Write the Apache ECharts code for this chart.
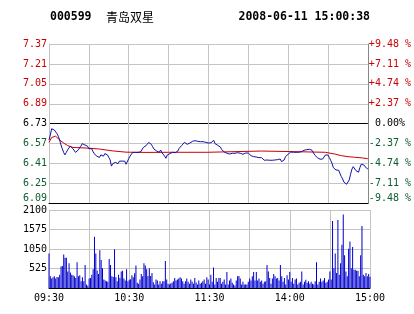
<!DOCTYPE html>
<html>
<head>
<meta charset="utf-8">
<script src="https://cdn.jsdelivr.net/npm/echarts@6/dist/echarts.min.js"></script>
<style>
html,body{margin:0;padding:0;background:#fff;}
#c{width:414px;height:314px;}
</style>
</head>
<body>
<div id="c"></div>
<script>
// ---- data ----
var stockCode = '000599';
var stockName = '青岛双星';
var stamp = '2008-06-11 15:00:38';
var prevClose = 6.73;

var priceTicks = ['6.09','6.25','6.41','6.57','6.73','6.89','7.05','7.21','7.37'];
var pctTicks = ['-9.48 %','-7.11 %','-4.74 %','-2.37 %',' 0.00%','+2.37 %','+4.74 %','+7.11 %','+9.48 %'];
var volTicks = ['0','525','1050','1575','2100'];
var timeMinutes = [0, 60, 120, 180, 240];
var timeLabels = ['09:30', '10:30', '11:30', '14:00', '15:00'];

// minute-by-minute price (241 minutes)
var prices = [
6.60,6.64,6.69,6.70,6.68,6.68,6.65,6.63,6.60,6.56,
6.53,6.50,6.48,6.50,6.52,6.53,6.55,6.54,6.53,6.52,
6.50,6.49,6.52,6.53,6.55,6.57,6.58,6.56,6.565,6.55,
6.53,6.52,6.53,6.51,6.49,6.48,6.47,6.48,6.46,6.48,
6.47,6.47,6.49,6.50,6.48,6.46,6.44,6.39,6.41,6.40,
6.42,6.43,6.41,6.43,6.44,6.43,6.425,6.43,6.405,6.42,
6.45,6.47,6.485,6.50,6.50,6.50,6.505,6.50,6.50,6.505,
6.52,6.54,6.546,6.554,6.56,6.58,6.575,6.565,6.546,6.527,
6.519,6.511,6.506,6.501,6.519,6.498,6.485,6.471,6.453,6.479,
6.490,6.490,6.495,6.501,6.493,6.498,6.495,6.511,6.533,6.546,
6.557,6.570,6.581,6.583,6.565,6.578,6.575,6.583,6.589,6.591,
6.594,6.591,6.589,6.586,6.586,6.586,6.586,6.583,6.581,6.581,
6.575,6.567,6.578,6.591,6.597,6.570,6.562,6.557,6.549,6.543,
6.522,6.511,6.503,6.498,6.493,6.493,6.487,6.490,6.493,6.487,
6.493,6.493,6.498,6.498,6.493,6.487,6.485,6.490,6.495,6.501,
6.495,6.482,6.474,6.469,6.466,6.466,6.463,6.461,6.458,6.458,
6.458,6.450,6.437,6.434,6.439,6.426,6.437,6.434,6.437,6.447,
6.439,6.431,6.442,6.450,6.447,6.426,6.413,6.439,6.466,6.477,
6.485,6.490,6.503,6.503,6.501,6.506,6.501,6.509,6.501,6.495,
6.506,6.511,6.517,6.522,6.522,6.517,6.525,6.519,6.517,6.501,
6.479,6.469,6.458,6.445,6.445,6.453,6.447,6.461,6.479,6.493,
6.479,6.458,6.437,6.413,6.378,6.365,6.359,6.354,6.357,6.341,
6.306,6.287,6.261,6.253,6.245,6.253,6.279,6.325,6.365,6.386,
6.373,6.354,6.338,6.341,6.378,6.405,6.399,6.399,6.394,6.373,
6.367
];

// average price line, read at these minutes
var avgMinutes = [0, 2, 5, 8, 11, 14, 18, 28, 38, 48, 58, 73, 90, 119, 120, 160, 185, 208, 215, 220, 225, 230, 235, 240];
var avgPrices = [6.58, 6.62, 6.63, 6.60, 6.575, 6.555, 6.54, 6.535, 6.527, 6.512, 6.502, 6.500, 6.501, 6.501, 6.511, 6.511, 6.506, 6.501, 6.487, 6.474, 6.466, 6.461, 6.457, 6.449];

// minute volumes (241 minutes)
var volumes = [
927,315,254,289,315,254,298,289,359,578,
595,901,814,814,446,665,420,359,341,315,
271,691,315,341,184,289,184,621,96,61,
254,271,359,508,1383,927,473,376,1015,753,
534,228,201,184,166,779,621,315,298,1041,
289,184,359,271,446,464,254,201,508,184,
219,236,341,289,394,604,140,114,228,376,
315,665,604,508,324,534,324,403,158,96,
228,201,96,184,114,184,184,726,228,114,
96,123,140,184,271,201,228,254,289,254,
184,114,184,254,166,114,228,166,114,271,
149,96,201,114,140,184,228,114,289,228,
96,359,166,551,96,271,166,271,271,114,
166,228,96,429,96,201,254,140,96,70,
201,315,324,254,96,166,96,96,96,166,
254,201,315,429,201,429,201,254,166,201,
114,166,184,621,446,271,114,254,376,315,
254,271,201,621,315,166,271,96,341,228,
429,166,271,114,228,254,96,140,166,446,
96,166,219,140,184,114,166,114,96,184,
691,96,166,254,166,201,271,140,166,228,
446,228,1803,534,928,403,1829,359,665,1164,
1978,884,446,315,1059,1251,534,1103,490,490,
464,464,315,884,1671,359,315,403,315,380,
300
];

// ---- chart ----
var RED = '#cc0000', GREEN = '#0b5d2e', GRID = '#c4c4c4';
var MONO = 'DejaVu Sans Mono';
var pMin = +priceTicks[0], pMax = +priceTicks[priceTicks.length - 1];
var pStep = +(priceTicks[1] - priceTicks[0]).toFixed(2);
function tickIndex(v) { return Math.round((v - pMin) / pStep); }
var vStep = +volTicks[1];

var splitColors = priceTicks.map(function (t) {
  return (+t === prevClose || +t === pMin) ? '#000000' : GRID;
});

var chart = echarts.init(document.getElementById('c'), null, { renderer: 'canvas' });
chart.setOption({
  animation: false,
  backgroundColor: '#ffffff',
  title: [
    { text: stockCode, left: 50, top: 10, padding: 0,
      textStyle: { fontFamily: MONO, fontWeight: 'bold', fontSize: 11.5, lineHeight: 14, color: '#000' } },
    { text: stockName, left: 106, top: 10, padding: 0,
      textStyle: { fontFamily: 'Noto Sans CJK SC', fontWeight: 'normal', fontSize: 12, lineHeight: 14, color: '#000' } },
    { text: stamp, right: 44, top: 10, padding: 0,
      textStyle: { fontFamily: MONO, fontWeight: 'bold', fontSize: 11.5, lineHeight: 14, color: '#000' } }
  ],
  grid: [
    { left: 49, right: 44, top: 44, height: 159.5 },
    { left: 49, right: 44, top: 210, height: 78 }
  ],
  xAxis: [
    { gridIndex: 0, type: 'value', min: 0, max: 240, interval: 30,
      axisLine: { show: true, lineStyle: { color: '#000', width: 1 } },
      axisTick: { show: false }, axisLabel: { show: false },
      splitLine: { show: true, lineStyle: { color: GRID, width: 1 } } },
    { gridIndex: 1, type: 'value', min: 0, max: 240, interval: 30,
      axisLine: { show: true, lineStyle: { color: '#000', width: 1 } },
      axisTick: { show: false },
      axisLabel: { show: true, fontFamily: MONO, fontSize: 10, color: '#000', margin: 5,
        showMinLabel: true, showMaxLabel: true,
        formatter: function (v) { var i = timeMinutes.indexOf(v); return i >= 0 ? timeLabels[i] : ''; } },
      splitLine: { show: true, lineStyle: { color: GRID, width: 1 } } }
  ],
  yAxis: [
    { gridIndex: 0, type: 'value', position: 'left', min: pMin, max: pMax, interval: pStep,
      axisLine: { show: true, lineStyle: { color: GRID } }, axisTick: { show: false },
      splitLine: { show: true, lineStyle: { color: splitColors, width: 1 } },
      axisLabel: { fontFamily: MONO, fontSize: 10, margin: 2, padding: [2, 0, 0, 0],
        verticalAlignMinLabel: 'bottom',
        formatter: function (v) { return priceTicks[tickIndex(v)]; },
        color: function (v) { var t = +priceTicks[tickIndex(v)]; return t > prevClose ? RED : (t === prevClose ? '#000' : GREEN); } } },
    { gridIndex: 0, type: 'value', position: 'right', min: pMin, max: pMax, interval: pStep,
      axisLine: { show: true, lineStyle: { color: '#888888' } }, axisTick: { show: false },
      splitLine: { show: false },
      axisLabel: { fontFamily: MONO, fontSize: 10, margin: 1, padding: [2, 0, 0, 0],
        verticalAlignMinLabel: 'bottom',
        formatter: function (v) { return pctTicks[tickIndex(v)]; },
        color: function (v) { var t = +priceTicks[tickIndex(v)]; return t > prevClose ? RED : (t === prevClose ? '#000' : GREEN); } } },
    { gridIndex: 1, type: 'value', position: 'left', min: +volTicks[0], max: +volTicks[volTicks.length - 1],
      interval: vStep,
      axisLine: { show: true, lineStyle: { color: GRID } }, axisTick: { show: false },
      splitLine: { show: true, lineStyle: { color: GRID, width: 1 } },
      axisLabel: { fontFamily: MONO, fontSize: 10, margin: 2, color: '#000', padding: [6, 0, 0, 0],
        showMinLabel: false,
        formatter: function (v) { return volTicks[Math.round(v / vStep)]; } } }
  ],
  series: [
    { type: 'line', xAxisIndex: 0, yAxisIndex: 0, symbol: 'none', silent: true,
      data: avgMinutes.map(function (m, i) { return [m, avgPrices[i]]; }),
      lineStyle: { color: RED, width: 1 } },
    { type: 'line', xAxisIndex: 0, yAxisIndex: 0, symbol: 'none', silent: true,
      data: prices.map(function (p, i) { return [i, p]; }),
      lineStyle: { color: '#1010a8', width: 1 } },
    { type: 'bar', xAxisIndex: 1, yAxisIndex: 2, silent: true, barWidth: 1,
      data: volumes.map(function (v, i) { return [i, v]; }),
      itemStyle: { color: '#0000cc' } }
  ]
});
</script>
</body>
</html>
